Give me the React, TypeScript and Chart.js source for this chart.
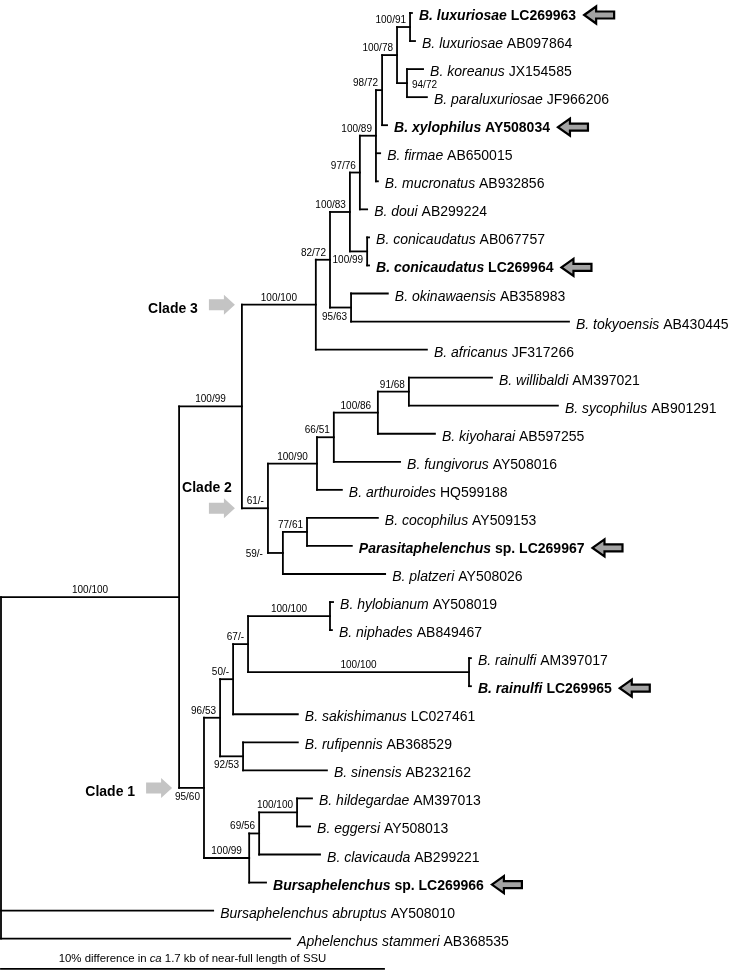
import React, { useEffect, useRef } from "react";
import { Chart, registerables } from "chart.js";
Chart.register(...registerables);

// ---------- DATA ----------
// Leaves, in display order (top to bottom)
const taxa = [
  "B. luxuriosae", "B. luxuriosae", "B. koreanus", "B. paraluxuriosae", "B. xylophilus",
  "B. firmae", "B. mucronatus", "B. doui", "B. conicaudatus", "B. conicaudatus",
  "B. okinawaensis", "B. tokyoensis", "B. africanus", "B. willibaldi", "B. sycophilus",
  "B. kiyoharai", "B. fungivorus", "B. arthuroides", "B. cocophilus", "Parasitaphelenchus sp.",
  "B. platzeri", "B. hylobianum", "B. niphades", "B. rainulfi", "B. rainulfi",
  "B. sakishimanus", "B. rufipennis", "B. sinensis", "B. hildegardae", "B. eggersi",
  "B. clavicauda", "Bursaphelenchus sp.", "Bursaphelenchus abruptus", "Aphelenchus stammeri",
];
const accessions = [
  "LC269963", "AB097864", "JX154585", "JF966206", "AY508034",
  "AB650015", "AB932856", "AB299224", "AB067757", "LC269964",
  "AB358983", "AB430445", "JF317266", "AM397021", "AB901291",
  "AB597255", "AY508016", "HQ599188", "AY509153", "LC269967",
  "AY508026", "AY508019", "AB849467", "AM397017", "LC269965",
  "LC027461", "AB368529", "AB232162", "AM397013", "AY508013",
  "AB299221", "LC269966", "AY508010", "AB368535",
];
const tipParent = [
  "N91", "N91", "N94", "N94", "N98", "N89", "N89", "N76", "NCon", "NCon",
  "N63", "N63", "C3", "N68", "N68", "N86", "N51", "N90", "N61", "N61",
  "N59", "NHy", "NHy", "NRa", "NRa", "N50", "N92", "N92", "NHi", "NHi",
  "N56", "N99", "root", "root",
];
// distance from root, % difference
const tipDepth = [
  10.73, 10.81, 11.02, 11.12, 10.08, 9.9, 9.84, 9.56, 9.61, 9.61,
  10.1, 14.83, 11.12, 12.82, 14.54, 11.33, 10.42, 8.9, 9.84, 9.16,
  10.03, 8.67, 8.64, 12.27, 12.27, 7.75, 7.75, 8.51, 8.12, 8.07,
  8.33, 6.92, 5.54, 7.55,
];
// sequences obtained in the study (bold, arrowed)
const highlighted = ["LC269963", "AY508034", "LC269964", "LC269967", "LC269965", "LC269966"];

// Internal nodes
const nodeIds = [
  "root", "ING", "C23", "C3", "N82", "N83", "N76", "N89", "N98", "N78",
  "N91", "N94", "NCon", "N63", "C2", "N90", "N51", "N86", "N68", "N59",
  "N61", "C1", "N53", "N50", "N67", "NHy", "NRa", "N92", "N99", "N56", "NHi",
];
const nodeParent = [
  "", "root", "ING", "C23", "C3", "N82", "N83", "N76", "N89", "N98",
  "N78", "N78", "N83", "N82", "C23", "C2", "N90", "N51", "N86", "C2",
  "N59", "ING", "C1", "N53", "N50", "N67", "N67", "N53", "C1", "N99", "N56",
];
const nodeDepth = [
  0, 4.65, 6.29, 8.22, 8.59, 9.11, 9.37, 9.79, 9.95, 10.34,
  10.68, 10.6, 9.56, 9.14, 6.97, 8.25, 8.69, 9.84, 10.65, 7.36,
  7.99, 5.3, 5.72, 6.06, 6.45, 8.59, 12.22, 6.32, 6.48, 6.74, 7.73,
];
const nodeSupport = [
  "", "100/100", "100/99", "100/100", "82/72", "100/83", "97/76", "100/89", "98/72", "100/78",
  "100/91", "94/72", "100/99", "95/63", "61/-", "100/90", "66/51", "100/86", "91/68", "59/-",
  "77/61", "95/60", "96/53", "50/-", "67/-", "100/100", "100/100", "92/53", "100/99", "69/56", "100/100",
];

const cladeNames = ["Clade 3", "Clade 2", "Clade 1"];
const cladeNodes = ["C3", "C2", "C1"];

const scaleBarPercent = 10;
const scaleBarText = ["10% difference in ", "ca", " 1.7 kb of near-full length of SSU"];

// ---------- LAYOUT / STYLE ----------
const W = 734;
const H = 975;
const FONT = '"Liberation Sans", Arial, Helvetica, sans-serif';
const LINE = "#000";
const LW = 1.8;
const supportPlacement: Record<string, string> = {
  N94: "right", N59: "left", N63: "below", NCon: "below", C1: "below", N92: "below",
};
const cladeLabelAbove: Record<string, boolean> = { C2: true };

function buildTree() {
  const depth: Record<string, number> = {};
  const parent: Record<string, string> = {};
  nodeIds.forEach((id, i) => {
    depth[id] = nodeDepth[i];
    parent[id] = nodeParent[i];
  });
  const children: Record<string, { y: () => number; key: string }[]> = {};
  nodeIds.forEach((id) => (children[id] = []));
  const yCache: Record<string, number> = {};
  const nodeY = (id: string): number => {
    if (yCache[id] !== undefined) return yCache[id];
    const ys = children[id].map((c) => c.y());
    const v = (Math.min(...ys) + Math.max(...ys)) / 2;
    yCache[id] = v;
    return v;
  };
  taxa.forEach((_, i) => children[tipParent[i]].push({ key: "t" + i, y: () => i }));
  nodeIds.forEach((id, i) => {
    if (nodeParent[i]) children[nodeParent[i]].push({ key: id, y: () => nodeY(id) });
  });
  return { depth, parent, children, nodeY };
}

export default function App() {
  const ref = useRef<HTMLCanvasElement | null>(null);

  useEffect(() => {
    document.body.style.margin = "0";
    const canvas = ref.current;
    if (!canvas) return;
    const tree = buildTree();
    const seg = (x1: number, y1: number, x2: number, y2: number) => ({
      type: "line" as const,
      data: [{ x: x1, y: y1 }, { x: x2, y: y2 }],
      borderColor: LINE,
      borderWidth: LW,
      borderCapStyle: "square" as const,
      pointRadius: 0,
      pointHoverRadius: 0,
      clip: false as any,
      tension: 0,
    });
    const datasets: any[] = [];
    // vertical lines at internal nodes
    nodeIds.forEach((id) => {
      const ys = tree.children[id].map((c) => c.y());
      datasets.push(seg(tree.depth[id], Math.min(...ys), tree.depth[id], Math.max(...ys)));
    });
    // horizontal branches to internal nodes
    nodeIds.forEach((id, i) => {
      if (!nodeParent[i]) return;
      const y = tree.nodeY(id);
      datasets.push(seg(tree.depth[nodeParent[i]], y, nodeDepth[i], y));
    });
    // horizontal branches to tips
    taxa.forEach((_, i) => {
      datasets.push(seg(tree.depth[tipParent[i]], i, tipDepth[i], i));
    });
    // scale bar
    const scaleY = taxa.length + 0.08;
    datasets.push(seg(0, scaleY, scaleBarPercent, scaleY));

    const pxPerPct = 38.3;
    const annot = {
      id: "treeAnnotations",
      afterDatasetsDraw(chart: any) {
        const ctx = chart.ctx as CanvasRenderingContext2D;
        const xs = chart.scales.x;
        const ys = chart.scales.y;
        const X = (v: number) => xs.getPixelForValue(v);
        const Y = (v: number) => ys.getPixelForValue(v);
        ctx.save();
        ctx.fillStyle = "#000";
        ctx.textBaseline = "alphabetic";

        // leaf labels
        taxa.forEach((name, i) => {
          const bold = highlighted.includes(accessions[i]);
          const parts: { t: string; it: boolean }[] = [];
          if (name.endsWith(" sp.")) {
            parts.push({ t: name.slice(0, -4), it: true });
            parts.push({ t: " sp. " + accessions[i], it: false });
          } else {
            parts.push({ t: name, it: true });
            parts.push({ t: " " + accessions[i], it: false });
          }
          let cx = X(tipDepth[i]) + 7;
          const by = Y(i) + 7;
          parts.forEach((p) => {
            ctx.font = `${p.it ? "italic " : ""}${bold ? "bold " : ""}14px ${FONT}`;
            ctx.textAlign = "left";
            ctx.fillText(p.t, cx, by);
            cx += ctx.measureText(p.t).width;
          });
          if (bold) {
            // outlined left-pointing arrow
            const ax = cx + 8;
            const ay = Y(i) + 2;
            ctx.beginPath();
            ctx.moveTo(ax, ay);
            ctx.lineTo(ax + 12, ay - 8.5);
            ctx.lineTo(ax + 12, ay - 3.5);
            ctx.lineTo(ax + 30, ay - 3.5);
            ctx.lineTo(ax + 30, ay + 3.5);
            ctx.lineTo(ax + 12, ay + 3.5);
            ctx.lineTo(ax + 12, ay + 8.5);
            ctx.closePath();
            ctx.fillStyle = "#a3a3a3";
            ctx.fill();
            ctx.lineWidth = 2.2;
            ctx.strokeStyle = "#000";
            ctx.lineJoin = "miter";
            ctx.stroke();
            ctx.fillStyle = "#000";
          }
        });

        // support values
        ctx.font = `10px ${FONT}`;
        nodeIds.forEach((id, i) => {
          const s = nodeSupport[i];
          if (!s || !nodeParent[i]) return;
          const nx = X(nodeDepth[i]);
          const px = X(tree.depth[nodeParent[i]]);
          const ny = Y(tree.nodeY(id));
          const mode = supportPlacement[id] || "above";
          if (mode === "right") {
            ctx.textAlign = "left";
            ctx.fillText(s, nx + 5, ny + 4.5);
          } else if (mode === "left") {
            ctx.textAlign = "right";
            ctx.fillText(s, px - 5, ny + 4.5);
          } else if (mode === "below") {
            ctx.textAlign = "right";
            ctx.fillText(s, nx - 4, ny + 12);
          } else {
            if (nx - px > 40) {
              ctx.textAlign = "center";
              ctx.fillText(s, (nx + px) / 2, ny - 4);
            } else {
              ctx.textAlign = "right";
              ctx.fillText(s, nx - 4, ny - 4);
            }
          }
        });

        // clade markers
        cladeNames.forEach((label, k) => {
          const id = cladeNodes[k];
          const pid = tree.parent[id];
          const tipX = X(tree.depth[pid]) - 7;
          const ay = Y(tree.nodeY(id));
          const L = 26;
          ctx.beginPath();
          ctx.moveTo(tipX, ay);
          ctx.lineTo(tipX - 11, ay - 10);
          ctx.lineTo(tipX - 11, ay - 5.5);
          ctx.lineTo(tipX - L, ay - 5.5);
          ctx.lineTo(tipX - L, ay + 5.5);
          ctx.lineTo(tipX - 11, ay + 5.5);
          ctx.lineTo(tipX - 11, ay + 10);
          ctx.closePath();
          ctx.fillStyle = "#c4c4c4";
          ctx.fill();
          ctx.fillStyle = "#000";
          ctx.font = `bold 14px ${FONT}`;
          ctx.textAlign = "right";
          if (cladeLabelAbove[id]) {
            ctx.fillText(label, tipX - 3, ay - 16);
          } else {
            ctx.fillText(label, tipX - L - 11, ay + 8);
          }
        });

        // scale bar label
        const sy = Y(scaleY) - 7;
        const fonts = [`11.4px ${FONT}`, `italic 11.4px ${FONT}`, `11.4px ${FONT}`];
        let total = 0;
        scaleBarText.forEach((t, k) => {
          ctx.font = fonts[k];
          total += ctx.measureText(t).width;
        });
        let cx = (X(0) + X(scaleBarPercent)) / 2 - total / 2;
        ctx.textAlign = "left";
        scaleBarText.forEach((t, k) => {
          ctx.font = fonts[k];
          ctx.fillText(t, cx, sy);
          cx += ctx.measureText(t).width;
        });
        ctx.restore();
      },
    };

    const chart = new Chart(canvas, {
      type: "line",
      data: { datasets },
      options: {
        animation: false,
        responsive: false,
        devicePixelRatio: 1,
        layout: { padding: 0 },
        plugins: { legend: { display: false }, tooltip: { enabled: false } },
        events: [],
        scales: {
          x: { type: "linear", display: false, min: -1 / pxPerPct, max: (W - 1) / pxPerPct },
          y: { type: "linear", display: false, reverse: true, min: -13 / 28.05, max: (H - 13) / 28.05 },
        },
      },
      plugins: [annot],
    });
    return () => chart.destroy();
  }, []);

  return <canvas ref={ref} width={W} height={H} style={{ display: "block" }} />;
}
